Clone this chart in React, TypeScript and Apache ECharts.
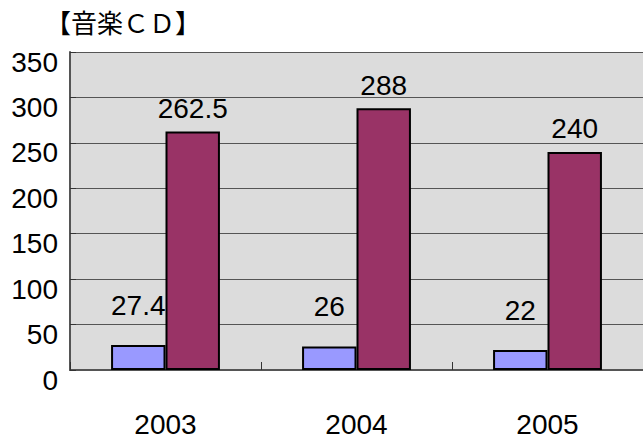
import React, { useEffect, useRef } from "react";
import * as echarts from "echarts";

const categories = ["2003", "2004", "2005"];
const seriesA = [27.4, 26, 22];
const seriesB = [262.5, 288, 240];
const title = "【音楽ＣＤ】";

const FONT = "'Liberation Sans Narrow', 'Arial Narrow', 'Liberation Sans', sans-serif";

export default function App() {
  const ref = useRef<HTMLDivElement>(null);
  useEffect(() => {
    const chart = echarts.init(ref.current!, null, { renderer: "svg" });
    chart.setOption({
      animation: false,
      backgroundColor: "#ffffff",
      title: {
        text: title,
        left: 40,
        top: 3,
        textStyle: { fontFamily: "'Noto Sans CJK JP', sans-serif", fontSize: 26, fontWeight: "normal", color: "#000" },
      },
      grid: { left: 70, top: 52, right: -3, bottom: 72, show: true, backgroundColor: "#dcdcdc", borderWidth: 0 },
      xAxis: {
        type: "category",
        data: categories,
        axisLine: { lineStyle: { color: "#555", width: 2 } },
        axisTick: { show: true, inside: true, length: 8, lineStyle: { color: "#333" } },
        axisLabel: { fontFamily: FONT, fontSize: 28, color: "#000", margin: 40 },
      },
      yAxis: {
        type: "value",
        min: 0,
        max: 350,
        interval: 50,
        axisLine: { show: true, lineStyle: { color: "#555", width: 2 } },
        axisTick: { show: true, inside: true, length: 6, lineStyle: { color: "#333" } },
        splitLine: { lineStyle: { color: "#555", width: 1 } },
        axisLabel: { fontFamily: FONT, fontSize: 28, color: "#000", margin: 12, verticalAlign: "top", lineHeight: 20 },
      },
      series: [
        {
          type: "bar",
          data: seriesA,
          barGap: "0%",
          barCategoryGap: "43%",
          itemStyle: { color: "#9999ff", borderColor: "#000", borderWidth: 2 },
          label: { show: true, position: "top", distance: 26, fontFamily: FONT, fontSize: 28, color: "#000" },
        },
        {
          type: "bar",
          data: seriesB,
          itemStyle: { color: "#993366", borderColor: "#000", borderWidth: 2 },
          label: { show: true, position: "top", distance: 9, fontFamily: FONT, fontSize: 28, color: "#000" },
        },
      ],
    });
    return () => chart.dispose();
  }, []);
  return <div ref={ref} style={{ width: 643, height: 442, position: "absolute", left: 0, top: 0 }} />;
}
